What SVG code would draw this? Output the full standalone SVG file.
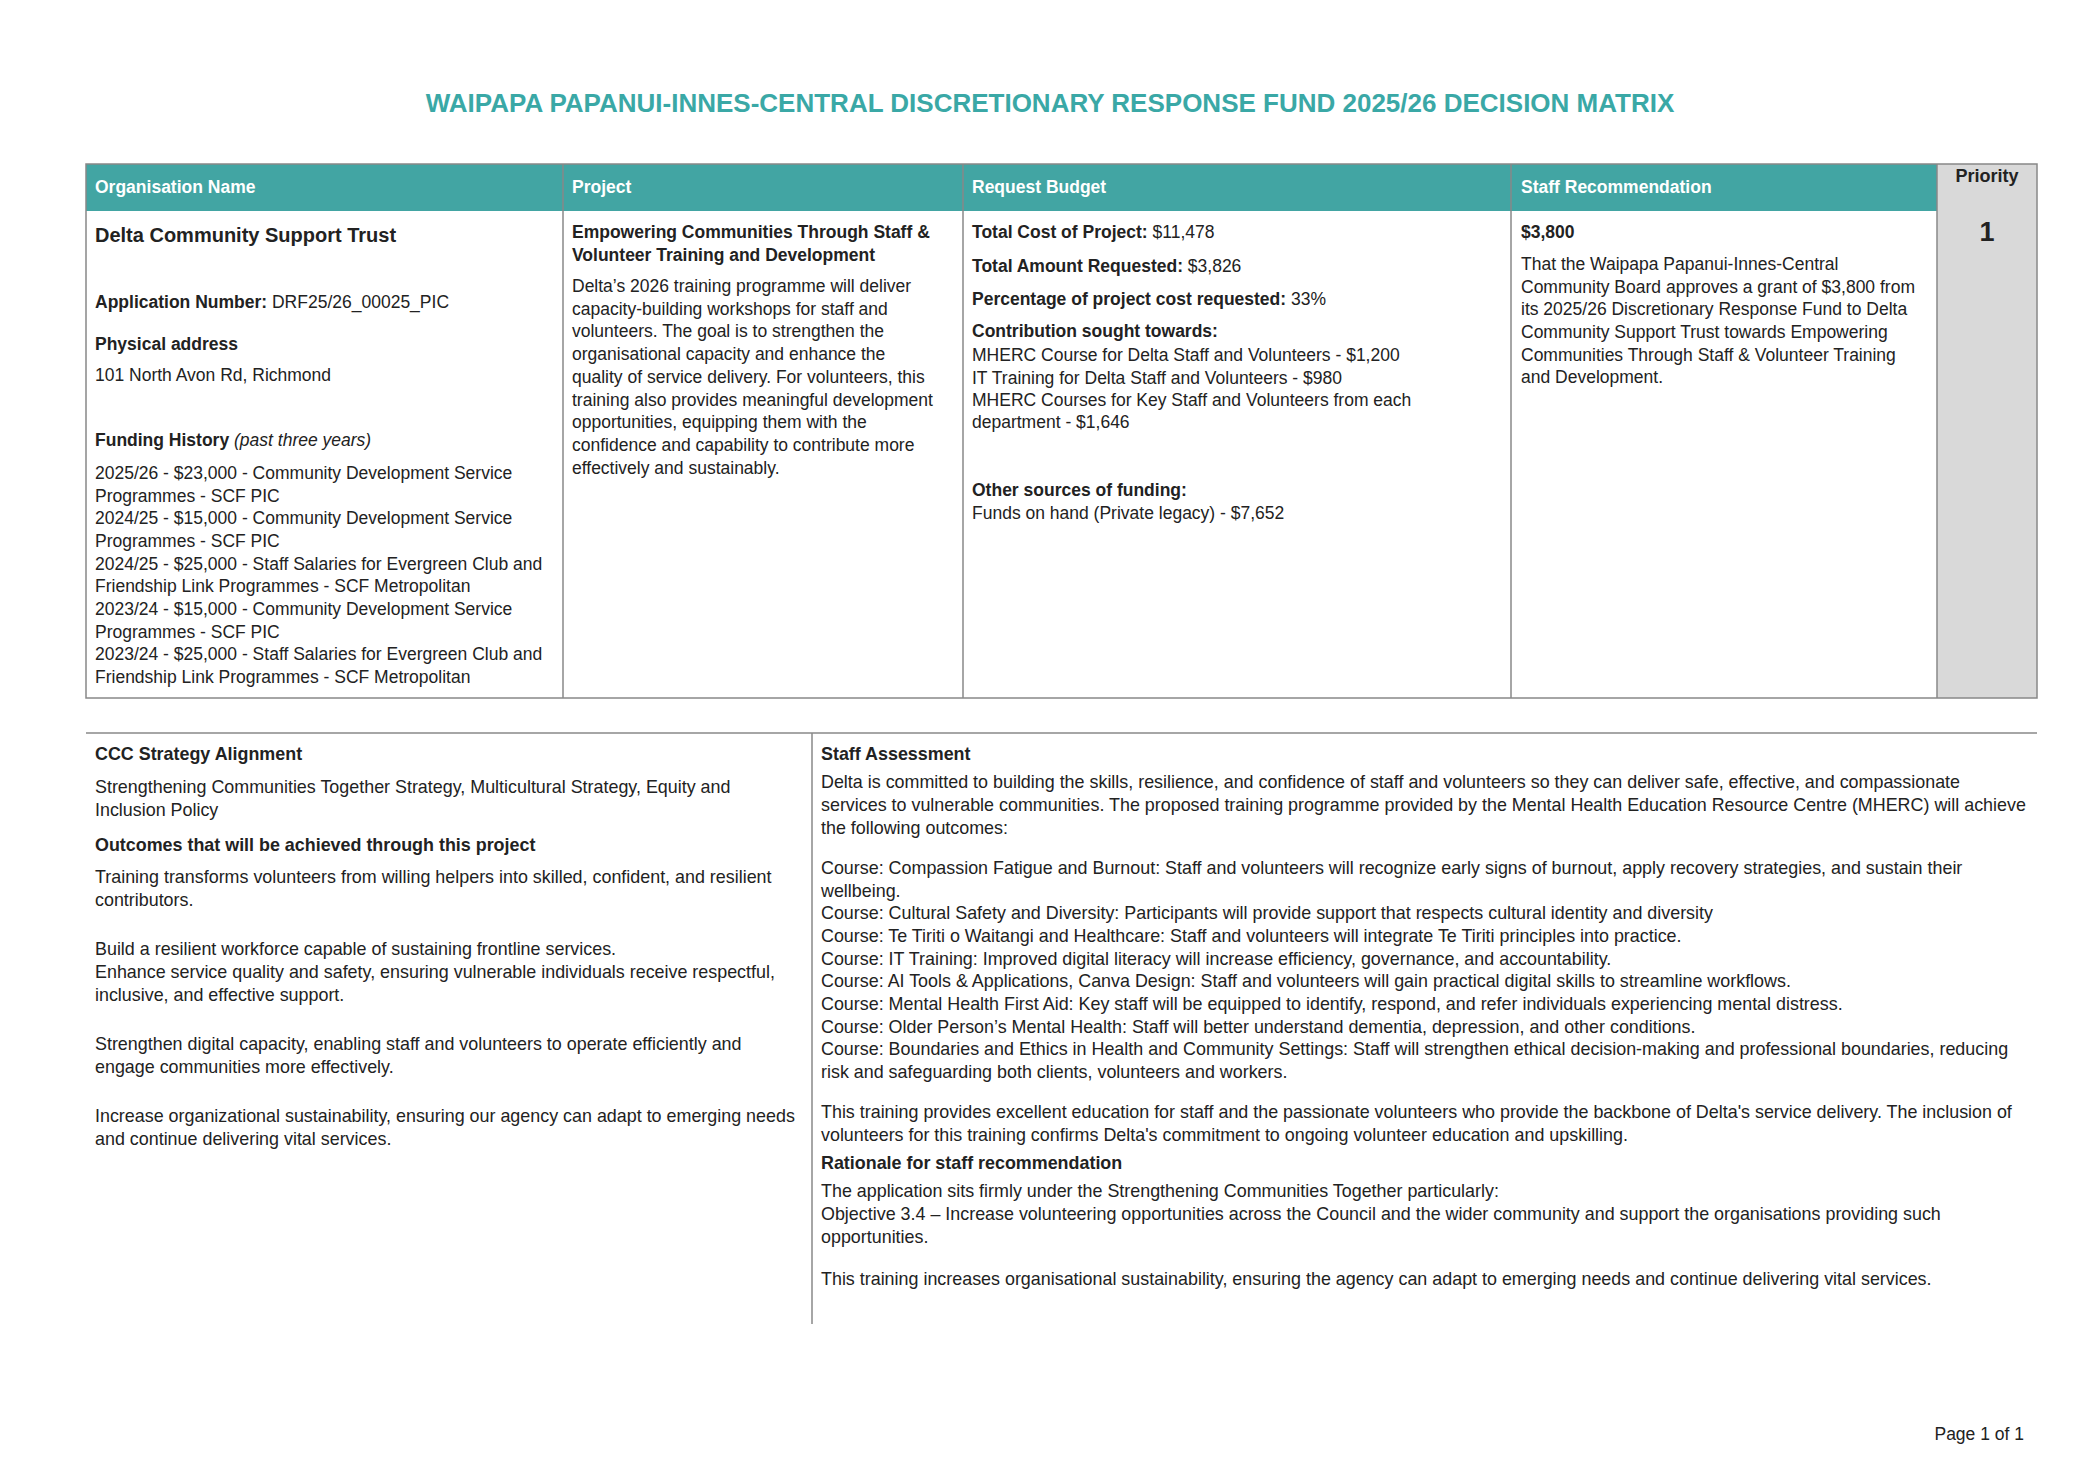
<svg xmlns="http://www.w3.org/2000/svg" width="2097" height="1483" viewBox="0 0 2097 1483">
<style>
text{font-family:"Liberation Sans",Arial,sans-serif;font-size:17.5px;fill:#222}
.lo text{font-size:17.9px}
.b{font-weight:bold}
.h{font-weight:bold;fill:#fff;font-size:17.5px}
.t{font-weight:bold;fill:#3AA8A6;font-size:26px}
.ln{stroke:#888;stroke-width:1.5;fill:none}
</style>
<rect width="2097" height="1483" fill="#fff"/>
<text class="t" x="1050" y="112" text-anchor="middle">WAIPAPA PAPANUI-INNES-CENTRAL DISCRETIONARY RESPONSE FUND 2025/26 DECISION MATRIX</text>
<g id="table">
<rect x="86" y="164" width="1851" height="47" fill="#42A5A3"/>
<rect x="1937" y="164" width="100" height="534" fill="#D9D9D9"/>
<rect class="ln" x="86" y="164" width="1951" height="534"/>
<line class="ln" x1="563" y1="164" x2="563" y2="698"/>
<line class="ln" x1="963" y1="164" x2="963" y2="698"/>
<line class="ln" x1="1511" y1="164" x2="1511" y2="698"/>
<line class="ln" x1="1937" y1="164" x2="1937" y2="698"/>
<text class="h" x="95" y="193">Organisation Name</text>
<text class="h" x="572" y="193">Project</text>
<text class="h" x="972" y="193">Request Budget</text>
<text class="h" x="1521" y="193">Staff Recommendation</text>
<text class="b" x="1987" y="182" text-anchor="middle" style="font-size:18px">Priority</text>
</g>
<g id="org">
<text class="b" x="95" y="242" style="font-size:20px">Delta Community Support Trust</text>
<text x="95" y="308"><tspan class="b">Application Number:</tspan>  DRF25/26_00025_PIC</text>
<text class="b" x="95" y="350">Physical address</text>
<text x="95" y="381">101 North Avon Rd, Richmond</text>
<text x="95" y="446"><tspan class="b">Funding History</tspan> <tspan font-style="italic">(past three years)</tspan></text>
<text x="95" y="479">2025/26 - $23,000 - Community Development Service</text>
<text x="95" y="501.5">Programmes - SCF PIC</text>
<text x="95" y="524">2024/25 - $15,000 - Community Development Service</text>
<text x="95" y="547">Programmes - SCF PIC</text>
<text x="95" y="569.5">2024/25 - $25,000 - Staff Salaries for Evergreen Club and</text>
<text x="95" y="592">Friendship Link Programmes - SCF Metropolitan</text>
<text x="95" y="615">2023/24 - $15,000 - Community Development Service</text>
<text x="95" y="637.5">Programmes - SCF PIC</text>
<text x="95" y="660">2023/24 - $25,000 - Staff Salaries for Evergreen Club and</text>
<text x="95" y="683">Friendship Link Programmes - SCF Metropolitan</text>
</g>
<g id="project">
<text class="b" x="572" y="238">Empowering Communities Through Staff &amp;</text>
<text class="b" x="572" y="261">Volunteer Training and Development</text>
<text x="572" y="292">Delta’s 2026 training programme will deliver</text>
<text x="572" y="314.7">capacity-building workshops for staff and</text>
<text x="572" y="337.4">volunteers. The goal is to strengthen the</text>
<text x="572" y="360.1">organisational capacity and enhance the</text>
<text x="572" y="382.8">quality of service delivery. For volunteers, this</text>
<text x="572" y="405.5">training also provides meaningful development</text>
<text x="572" y="428.2">opportunities, equipping them with the</text>
<text x="572" y="450.9">confidence and capability to contribute more</text>
<text x="572" y="473.6">effectively and sustainably.</text>
</g>
<g id="budget">
<text x="972" y="238"><tspan class="b">Total Cost of Project:</tspan> $11,478</text>
<text x="972" y="272"><tspan class="b">Total Amount Requested:</tspan> $3,826</text>
<text x="972" y="305"><tspan class="b">Percentage of project cost requested:</tspan>  33%</text>
<text class="b" x="972" y="337">Contribution sought towards:</text>
<text x="972" y="361">MHERC Course for Delta Staff and Volunteers - $1,200</text>
<text x="972" y="384">IT Training for Delta Staff and Volunteers - $980</text>
<text x="972" y="406">MHERC Courses for Key Staff and Volunteers from each</text>
<text x="972" y="428">department - $1,646</text>
<text class="b" x="972" y="496">Other sources of funding:</text>
<text x="972" y="519">Funds on hand (Private legacy) - $7,652</text>
</g>
<g id="recommendation">
<text class="b" x="1521" y="238">$3,800</text>
<text x="1521" y="270">That the Waipapa Papanui-Innes-Central</text>
<text x="1521" y="293">Community Board approves a grant of $3,800 from</text>
<text x="1521" y="315">its 2025/26 Discretionary Response Fund to Delta</text>
<text x="1521" y="338">Community Support Trust towards Empowering</text>
<text x="1521" y="361">Communities Through Staff &amp; Volunteer Training</text>
<text x="1521" y="383">and Development.</text>
</g>
<g id="priority">
<text class="b" x="1987" y="241" text-anchor="middle" style="font-size:27px">1</text>
</g>
<g id="lower">
<line class="ln" x1="86" y1="733" x2="2037" y2="733"/>
<line class="ln" x1="812" y1="733" x2="812" y2="1324"/>
</g>
<g id="alignment" class="lo">
<text class="b" x="95" y="760">CCC Strategy Alignment</text>
<text x="95" y="793">Strengthening Communities Together Strategy, Multicultural Strategy, Equity and</text>
<text x="95" y="816">Inclusion Policy</text>
<text class="b" x="95" y="851">Outcomes that will be achieved through this project</text>
<text x="95" y="883">Training transforms volunteers from willing helpers into skilled, confident, and resilient</text>
<text x="95" y="906">contributors.</text>
<text x="95" y="955">Build a resilient workforce capable of sustaining frontline services.</text>
<text x="95" y="978">Enhance service quality and safety, ensuring vulnerable individuals receive respectful,</text>
<text x="95" y="1001">inclusive, and effective support.</text>
<text x="95" y="1050"> Strengthen digital capacity, enabling staff and volunteers to operate efficiently and</text>
<text x="95" y="1073">engage communities more effectively.</text>
<text x="95" y="1122">Increase organizational sustainability, ensuring our agency can adapt to emerging needs</text>
<text x="95" y="1145">and continue delivering vital services.</text>
</g>
<g id="assessment" class="lo">
<text class="b" x="821" y="760">Staff Assessment</text>
<text x="821" y="788">Delta is committed to building the skills, resilience, and confidence of staff and volunteers so they can deliver safe, effective, and compassionate</text>
<text x="821" y="811">services to vulnerable communities. The proposed training programme provided by the Mental Health Education Resource Centre (MHERC) will achieve</text>
<text x="821" y="834">the following outcomes:</text>
<text x="821" y="874">Course: Compassion Fatigue and Burnout: Staff and volunteers will recognize early signs of burnout, apply recovery strategies, and sustain their</text>
<text x="821" y="897">wellbeing.</text>
<text x="821" y="919">Course: Cultural Safety and Diversity: Participants will provide support that respects cultural identity and diversity</text>
<text x="821" y="942">Course: Te Tiriti o Waitangi and Healthcare: Staff and volunteers will integrate Te Tiriti principles into practice.</text>
<text x="821" y="965">Course: IT Training: Improved digital literacy will increase efficiency, governance, and accountability.</text>
<text x="821" y="987">Course: AI Tools &amp; Applications, Canva Design: Staff and volunteers will gain practical digital skills to streamline workflows.</text>
<text x="821" y="1010">Course: Mental Health First Aid: Key staff will be equipped to identify, respond, and refer individuals experiencing mental distress.</text>
<text x="821" y="1033">Course: Older Person’s Mental Health: Staff will better understand dementia, depression, and other conditions.</text>
<text x="821" y="1055">Course: Boundaries and Ethics in Health and Community Settings: Staff will strengthen ethical decision-making and professional boundaries, reducing</text>
<text x="821" y="1078">risk and safeguarding both clients, volunteers and workers.</text>
<text x="821" y="1118">This training provides excellent education for staff and the passionate volunteers who provide the backbone of Delta's service delivery. The inclusion of</text>
<text x="821" y="1141">volunteers for this training confirms Delta's commitment to ongoing volunteer education and upskilling.</text>
<text class="b" x="821" y="1169">Rationale for staff recommendation</text>
<text x="821" y="1197">The application sits firmly under the Strengthening Communities Together particularly:</text>
<text x="821" y="1220">Objective 3.4 – Increase volunteering opportunities across the Council and the wider community and support the organisations providing such</text>
<text x="821" y="1243">opportunities.</text>
<text x="821" y="1285">This training increases organisational sustainability, ensuring the agency can adapt to emerging needs and continue delivering vital services.</text>
</g>
<text x="2024" y="1440" text-anchor="end">Page 1 of 1</text>
</svg>
